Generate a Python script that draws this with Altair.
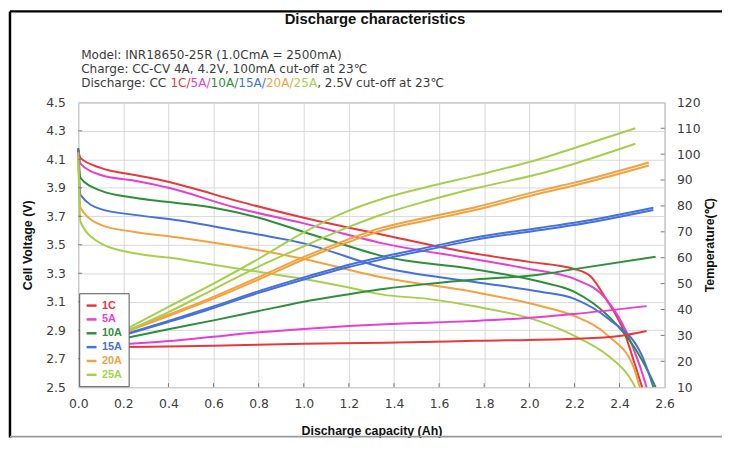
import altair as alt
import pandas as pd

SERIES = ["1C", "5A", "10A", "15A", "20A", "25A"]
COLORS = ["#e8383d", "#e53fd6", "#2e8f3b", "#4671dc", "#f3a23f", "#a8cf4c"]

# ---- Cell voltage curves (V) vs discharge capacity (Ah)
CAP_V = {
    "1C":  [0, 0.01, 0.1, 0.25, 0.35, 0.5, 0.7, 1.0, 1.35, 1.75, 2.0, 2.2, 2.27, 2.34, 2.42, 2.47, 2.50],
    "5A":  [0, 0.01, 0.1, 0.25, 0.4, 0.7, 1.0, 1.35, 1.75, 2.0, 2.2, 2.34, 2.43, 2.49, 2.52],
    "10A": [0, 0.01, 0.1, 0.25, 0.4, 0.6, 0.8, 1.0, 1.2, 1.35, 1.75, 2.05, 2.2, 2.35, 2.47, 2.53, 2.56],
    "15A": [0, 0.01, 0.1, 0.25, 0.45, 0.7, 1.0, 1.35, 1.75, 2.05, 2.2, 2.35, 2.50, 2.55],
    "20A": [0, 0.01, 0.1, 0.25, 0.45, 0.7, 1.0, 1.35, 1.75, 2.05, 2.2, 2.35, 2.46, 2.49],
    "25A": [0, 0.01, 0.1, 0.25, 0.4, 0.6, 0.8, 1.0, 1.2, 1.35, 1.55, 1.75, 2.05, 2.2, 2.35, 2.44, 2.47],
}
VOLT = {
    "1C":  [4.17, 4.11, 4.04, 3.99, 3.96, 3.90, 3.81, 3.69, 3.57, 3.44, 3.38, 3.33, 3.28, 3.12, 2.89, 2.65, 2.50],
    "5A":  [4.17, 4.07, 3.99, 3.95, 3.90, 3.76, 3.65, 3.51, 3.40, 3.33, 3.26, 3.12, 2.89, 2.65, 2.50],
    "10A": [4.18, 3.97, 3.88, 3.83, 3.80, 3.76, 3.69, 3.59, 3.49, 3.42, 3.33, 3.24, 3.17, 3.00, 2.77, 2.60, 2.50],
    "15A": [4.17, 3.85, 3.75, 3.71, 3.67, 3.60, 3.51, 3.34, 3.24, 3.17, 3.12, 2.98, 2.72, 2.50],
    "20A": [4.15, 3.76, 3.64, 3.59, 3.55, 3.49, 3.40, 3.27, 3.17, 3.07, 3.00, 2.86, 2.65, 2.50],
    "25A": [4.12, 3.66, 3.51, 3.44, 3.41, 3.36, 3.31, 3.26, 3.20, 3.15, 3.12, 3.07, 2.96, 2.86, 2.72, 2.58, 2.50],
}

# ---- Cell temperature curves (deg C) vs discharge capacity (Ah), two runs for some rates
CAP_T = {
    "1C":  [0.2, 0.6, 1.0, 1.36, 1.76, 2.2, 2.4, 2.52],
    "5A":  [0.2, 0.4, 0.6, 0.8, 1.0, 1.2, 1.36, 1.55, 1.76, 2.05, 2.2, 2.52],
    "10A": [0.2, 0.4, 0.6, 0.8, 1.0, 1.2, 1.36, 1.55, 1.76, 2.05, 2.2, 2.56],
    "15A": [0.2, 0.4, 0.6, 0.8, 1.0, 1.2, 1.36, 1.55, 1.76, 2.05, 2.2, 2.55],
    "20A": [0.2, 0.4, 0.6, 0.8, 1.0, 1.2, 1.35, 1.55, 1.76, 2.05, 2.2, 2.53],
    "25A": [0.2, 0.4, 0.6, 0.8, 1.0, 1.2, 1.35, 1.55, 1.76, 2.05, 2.2, 2.47],
}
TEMP = {
    "1C":  [[25.5, 26.0, 26.8, 27.2, 27.9, 28.7, 29.8, 31.7]],
    "5A":  [[26.6, 27.8, 29.5, 31.2, 32.5, 33.6, 34.3, 34.9, 35.6, 37.1, 38.3, 41.3]],
    "10A": [[28.8, 32.4, 35.8, 39.4, 43.0, 45.9, 48.0, 49.9, 51.6, 53.5, 55.6, 60.4]],
    "15A": [[30.0, 35.2, 40.6, 46.4, 51.6, 56.4, 59.6, 63.1, 66.9, 70.7, 72.6, 78.4],
            [30.3, 35.6, 41.2, 47.1, 52.4, 57.3, 60.6, 64.0, 67.8, 71.6, 73.5, 79.3]],
    "20A": [[31.0, 37.5, 44.2, 51.6, 59.3, 66.1, 70.6, 74.5, 78.4, 84.9, 87.9, 95.6],
            [31.3, 38.0, 44.9, 52.5, 60.3, 67.2, 71.7, 75.6, 79.5, 86.0, 89.0, 96.8]],
    "25A": [[31.8, 41.0, 50.0, 59.6, 69.8, 78.2, 82.8, 87.4, 91.7, 98.2, 102.4, 110.0],
            [31.2, 39.0, 47.8, 56.6, 64.4, 71.9, 76.8, 82.0, 86.8, 92.5, 96.3, 104.0]],
}

X_TICKS = [0.2, 0.4, 0.6, 0.8, 1.0, 1.2, 1.4, 1.6, 1.8, 2.0, 2.2, 2.4]
V_TICKS = [2.7, 2.9, 3.1, 3.3, 3.5, 3.7, 3.9, 4.1, 4.3]
T_TICKS = [20, 30, 40, 50, 60, 70, 80, 90, 100, 110]

TITLE = "Discharge characteristics"
LINE1 = "Model: INR18650-25R (1.0CmA = 2500mA)"
LINE2 = "Charge: CC-CV 4A, 4.2V, 100mA cut-off at 23\u2103"
LINE3_PRE = "Discharge: CC "
LINE3_PARTS = ["1C/", "5A/", "10A/", "15A/", "20A/", "25A"]
LINE3_POST = ", 2.5V cut-off at 23\u2103"

# ---------------- tables
vrows = []
for s in SERIES:
    for c, v in zip(CAP_V[s], VOLT[s]):
        vrows.append({"series": s, "cap": c, "v": v})
df_v = pd.DataFrame(vrows)

trows = []
for s in SERIES:
    for r, run in enumerate(TEMP[s]):
        for c, t in zip(CAP_T[s], run):
            trows.append({"series": s, "run": f"{s}-{r}", "cap": c, "t": t})
df_t = pd.DataFrame(trows)

W, H = 593, 288
SUBFONT = "DejaVu Sans"
SUBSIZE = 12.2
TXT = "#3c3c3c"

x_enc = alt.X(
    "cap:Q",
    scale=alt.Scale(domain=[0, 2.6], nice=False, zero=False),
    axis=alt.Axis(
        values=[round(i * 0.1, 1) for i in range(27)],
        labelExpr="round(datum.value*10) % 2 == 0 ? format(datum.value, '.1f') : ''",
        grid=True, gridColor="#d9d9d9", tickSize=0, domain=False,
        labelFlush=False, labelOverlap=False,
        labelFont=SUBFONT, labelFontSize=12.5, labelColor=TXT, labelPadding=11,
        title="Discharge capacity (Ah)", titleFont="Liberation Sans", titleFontSize=12.5,
        titleFontWeight="bold", titleColor="#111", titlePadding=14,
    ),
)

color_enc = alt.Color(
    "series:N",
    scale=alt.Scale(domain=SERIES, range=COLORS),
    legend=alt.Legend(
        orient="bottom-left", offset=1, title=None,
        symbolType="stroke", symbolStrokeWidth=2.5, symbolSize=100,
        labelFont="Liberation Sans", labelFontWeight="bold", labelFontSize=11,
        labelColor={"expr": "scale('color', datum.value)"},
        fillColor="white", strokeColor="#555", padding=6, rowPadding=2,
        labelOffset=4,
    ),
)

volt = alt.Chart(df_v).mark_line(strokeWidth=2, interpolate="monotone").encode(
    x=x_enc,
    y=alt.Y(
        "v:Q",
        scale=alt.Scale(domain=[2.5, 4.5], nice=False, zero=False),
        axis=alt.Axis(
            orient="left", values=[round(2.5 + 0.2 * i, 1) for i in range(11)], format=".1f",
            grid=True, gridColor="#d9d9d9", tickSize=0, domain=False,
            labelFont=SUBFONT, labelFontSize=12.5, labelColor=TXT, labelPadding=13,
            title="Cell Voltage (V)", titleFont="Liberation Sans", titleFontSize=12.5,
            titleFontWeight="bold", titleColor="#111", titlePadding=11,
        ),
    ),
    color=color_enc,
    order="cap:Q",
)

temp = alt.Chart(df_t).mark_line(strokeWidth=2, interpolate="monotone").encode(
    x=x_enc,
    y=alt.Y(
        "t:Q",
        scale=alt.Scale(domain=[10, 120], nice=False, zero=False),
        axis=alt.Axis(
            orient="right", values=list(range(10, 121, 10)),
            grid=False, tickSize=0, domain=False,
            labelFont=SUBFONT, labelFontSize=12.5, labelColor=TXT, labelPadding=12,
            title="Temperature(\u2103)", titleFont="Liberation Sans", titleFontSize=12.5,
            titleFontWeight="bold", titleColor="#111", titlePadding=4,
            titleAngle=270, titleBaseline="top",
        ),
    ),
    color=color_enc,
    detail="run:N",
    order="cap:Q",
)

# inward tick marks
xt = alt.Chart(pd.DataFrame({"cap": X_TICKS})).mark_rule(color="#777").encode(
    x=alt.X("cap:Q", scale=alt.Scale(domain=[0, 2.6], nice=False, zero=False)),
    y=alt.value(H - 4), y2=alt.value(H),
)
vt = alt.Chart(pd.DataFrame({"v": V_TICKS})).mark_rule(color="#777").encode(
    y=alt.Y("v:Q", scale=alt.Scale(domain=[2.5, 4.5], nice=False, zero=False), axis=None),
    x=alt.value(0), x2=alt.value(4),
)
tt = alt.Chart(pd.DataFrame({"t": T_TICKS})).mark_rule(color="#777").encode(
    y=alt.Y("t:Q", scale=alt.Scale(domain=[10, 120], nice=False, zero=False), axis=None),
    x=alt.value(W - 4), x2=alt.value(W),
)

one = pd.DataFrame({"k": [0]})

def txt(text, x, y, color=TXT, font=SUBFONT, size=SUBSIZE, weight="normal", align="left"):
    return alt.Chart(one).mark_text(
        font=font, fontSize=size, fontWeight=weight, align=align, baseline="alphabetic", color=color
    ).encode(x=alt.value(x), y=alt.value(y), text=alt.value(text))

# DejaVu Sans advance widths (units per 2048 em) for laying out coloured segments
ADV = {"D": 1577, "i": 569, "s": 1067, "c": 1126, "h": 1298, "a": 1255, "r": 842, "g": 1300,
       "e": 1260, ":": 690, " ": 651, "C": 1430, "A": 1401, "/": 690,
       "0": 1303, "1": 1303, "2": 1303, "5": 1303}

def tw(s):
    return sum(ADV.get(ch, 1300) for ch in s) / 2048 * SUBSIZE

x0 = 3
texts = [
    txt(TITLE, 300, -79, color="#111", font="Liberation Sans", size=15, weight="bold", align="center"),
    txt(LINE1, x0, -44),
    txt(LINE2, x0, -30),
    txt(LINE3_PRE, x0, -16),
]
cx = x0 + tw(LINE3_PRE)
for part, col in zip(LINE3_PARTS, COLORS):
    texts.append(txt(part, cx, -16, color=col))
    cx += tw(part)
texts.append(txt(LINE3_POST, cx, -16))

# page frame
frame = [
    alt.Chart(one).mark_rule(color="#000", strokeWidth=2.5).encode(
        x=alt.value(-69), y=alt.value(-92), y2=alt.value(339)),
    alt.Chart(one).mark_rule(color="#000", strokeWidth=2.5).encode(
        x=alt.value(-69), x2=alt.value(651), y=alt.value(-92)),
    alt.Chart(one).mark_rule(color="#9a9a9a", strokeWidth=2).encode(
        x=alt.value(-69), x2=alt.value(651), y=alt.value(338)),
]

chart = alt.layer(
    volt, temp, xt, vt, tt, *texts, *frame
).resolve_scale(y="independent").properties(
    width=W, height=H,
    padding={"left": 71, "top": 93, "right": 58, "bottom": 52},
    autosize=alt.AutoSizeParams(type="none"),
    background="white",
).configure_view(stroke="#8c8c8c", strokeWidth=1)

chart.save("out.html", embed_options={"renderer": "svg", "actions": False})
